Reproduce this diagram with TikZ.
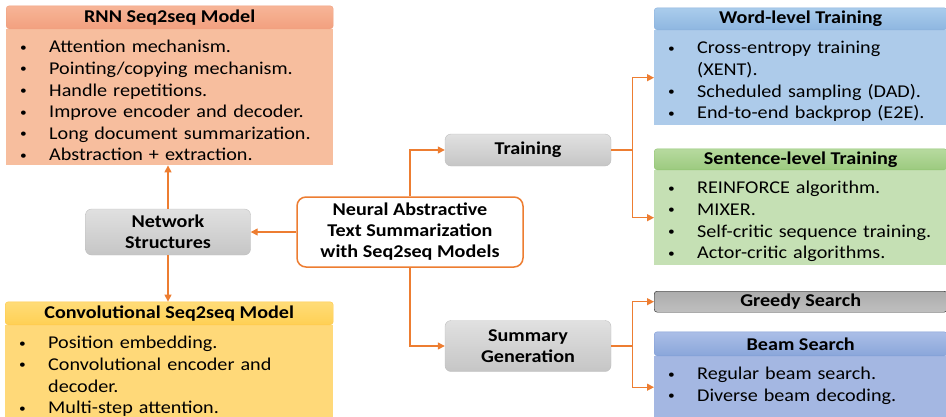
\documentclass[tikz,border=0pt]{standalone}
\usepackage{fontspec}
\setmainfont{Carlito}[FakeStretch=1.12]
\usetikzlibrary{positioning,arrows.meta}
\definecolor{orng}{HTML}{ED7D31}
\definecolor{rnnbg}{HTML}{F7BE9E}
\definecolor{rnnt}{HTML}{F7B597}
\definecolor{rnnm}{HTML}{F2A07F}
\definecolor{rnnd}{HTML}{F0A080}
\definecolor{cnvbg}{HTML}{FFD979}
\definecolor{cnvt}{HTML}{FFDC78}
\definecolor{cnvm}{HTML}{FFD054}
\definecolor{cnvd}{HTML}{FFC94A}
\definecolor{wrdbg}{HTML}{ADCBEA}
\definecolor{wrdt}{HTML}{AACCEC}
\definecolor{wrdm}{HTML}{8EB6E0}
\definecolor{wrdd}{HTML}{8AB0DC}
\definecolor{senbg}{HTML}{C5E0B4}
\definecolor{sent}{HTML}{B7DA9F}
\definecolor{senm}{HTML}{9CCA7F}
\definecolor{send}{HTML}{8FC370}
\definecolor{bmbg}{HTML}{A4B7E2}
\definecolor{bmt}{HTML}{ABBEE7}
\definecolor{bmm}{HTML}{8AA6DA}
\definecolor{bmd}{HTML}{7F9CD6}
\newcommand{\hdfont}{\fontsize{18}{21}\selectfont\bfseries}
\newcommand{\lsfont}{\fontsize{18}{21.6}\selectfont}
\newcommand{\itm}{\par\hangindent=31pt\hangafter=1\noindent\makebox[31pt][l]{\hspace{2pt}\raisebox{1.5pt}{\fontsize{12}{12}\selectfont\textbullet}}}
\tikzset{
  hdr/.style={rounded corners=3pt, inner sep=0pt, above=0pt of #1, font=\hdfont},
  lst/.style={anchor=north west, inner xsep=12pt, inner ysep=2pt, align=left, font=\lsfont},
  gbox/.style={draw=gray!50, rounded corners=6pt, top color=gray!24, bottom color=gray!45, minimum width=166pt, align=center, font=\hdfont},
  lnk/.style={draw=orng, line width=1.3pt, -{Triangle[length=7pt,width=7pt]}}
}
\begin{document}
\begin{tikzpicture}[x=1pt,y=-1pt]
\useasboundingbox (0,0) rectangle (946,416);
\node[lst, fill=rnnbg, text width=303pt, text depth=132pt] (rnnb) at (6,29) {\itm Attention mechanism.
\itm Pointing/copying mechanism.
\itm Handle repetitions.
\itm Improve encoder and decoder.
\itm Long document summarization.
\itm Abstraction + extraction.};
\node[hdr=rnnb, draw=rnnd, top color=rnnt, bottom color=rnnm, minimum width=327pt, minimum height=23pt] (rnnh) {RNN Seq2seq Model};
\node[lst, fill=cnvbg, text width=304pt, text depth=101pt] (cnvb) at (5,325) {\itm Position embedding.
\itm Convolutional encoder and\newline decoder.
\itm Multi-step attention.};
\node[hdr=cnvb, draw=cnvd, top color=cnvt, bottom color=cnvm, minimum width=328pt, minimum height=23pt] (cnvh) {Convolutional Seq2seq Model};
\node[lst, fill=wrdbg, text width=269pt, text depth=91pt] (wrdb) at (654,30) {\itm Cross-entropy training\newline (XENT).
\itm Scheduled sampling (DAD).
\itm End-to-end backprop (E2E).};
\node[hdr=wrdb, draw=wrdd, top color=wrdt, bottom color=wrdm, minimum width=293pt, minimum height=22pt] (wrdh) {Word-level Training};
\node[lst, fill=senbg, text width=269pt, text depth=91pt] (senb) at (654,170) {\itm REINFORCE algorithm.
\itm MIXER.
\itm Self-critic sequence training.
\itm Actor-critic algorithms.};
\node[hdr=senb, draw=send, top color=sent, bottom color=senm, minimum width=293pt, minimum height=21pt] (senh) {Sentence-level Training};
\node[rounded corners=3pt, inner sep=0pt, anchor=north west, font=\hdfont, draw=gray!25!black, top color=gray!65, bottom color=gray!50, minimum width=293pt, minimum height=21pt] (grd) at (654,291) {Greedy Search};
\node[lst, fill=bmbg, text width=269pt, text depth=58pt] (bmb) at (654,356) {\itm Regular beam search.
\itm Diverse beam decoding.};
\node[hdr=bmb, draw=bmd, top color=bmt, bottom color=bmm, minimum width=293pt, minimum height=24pt] (bmh) {Beam Search};
\node[gbox, minimum width=165pt, minimum height=46pt] (net) at (168,232) {Network\\Structures};
\node[draw=orng, line width=1.5pt, rounded corners=9pt, fill=white, minimum width=226pt, minimum height=70pt, align=center, font=\hdfont] (ctr) at (410,232) {Neural Abstractive\\Text Summarization\\with Seq2seq Models};
\node[gbox, minimum height=32pt] (trn) at (528,150) {Training};
\node[gbox, minimum height=51pt] (sum) at (528,346) {Summary\\Generation};
\coordinate[right=21pt of trn.east] (tbr);
\coordinate[right=21pt of sum.east] (sbr);
\draw[lnk] (net.north) -- (net.north |- rnnb.south);
\draw[lnk] (net.south) -- (net.south |- cnvh.north);
\draw[lnk] (ctr.west) -- (net.east);
\draw[lnk] (ctr.north) |- (trn.west);
\draw[lnk] (ctr.south) |- (sum.west);
\draw[lnk] (trn.east) -- (tbr) |- (wrdb.west);
\draw[lnk] (tbr) |- (senb.west);
\draw[lnk] (sum.east) -- (sbr) |- (grd.west);
\draw[lnk] (sbr) |- (bmb.west);
\end{tikzpicture}
\end{document}
